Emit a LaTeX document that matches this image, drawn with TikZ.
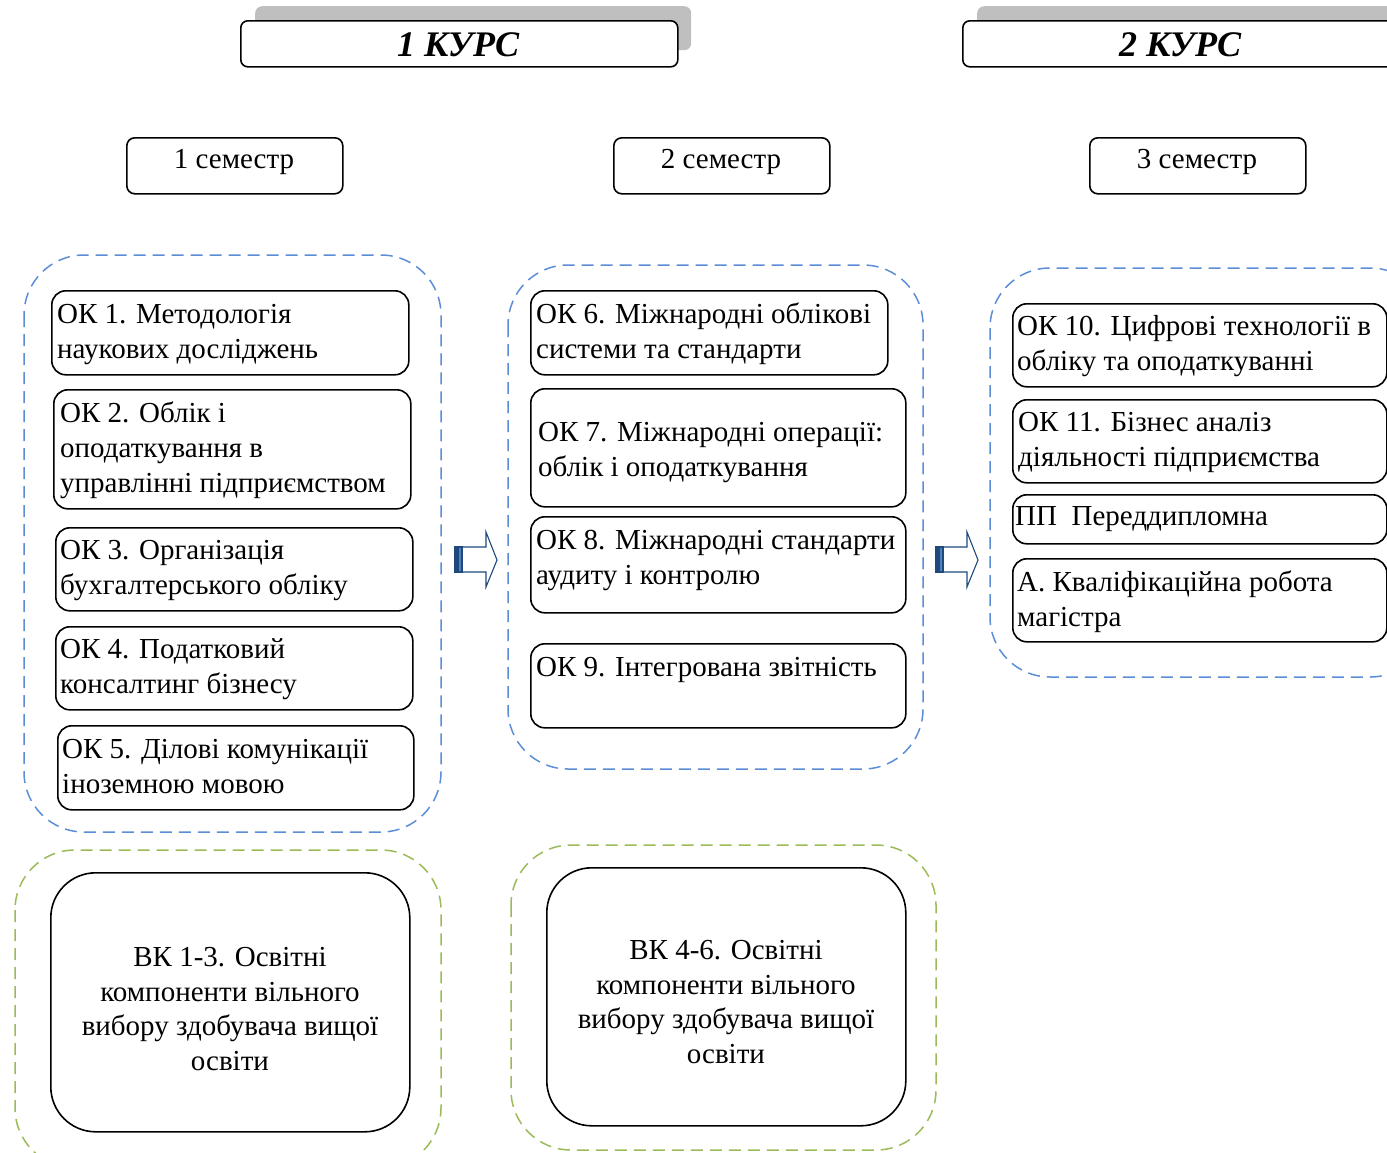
\documentclass[tikz,border=0pt]{standalone}
\usepackage{fontspec}
\setmainfont{Liberation Serif}
\definecolor{grpblue}{RGB}{91,142,214}
\definecolor{grpgreen}{RGB}{155,187,89}
\definecolor{arrblue}{RGB}{31,73,125}
\definecolor{arrmid}{RGB}{79,129,189}
\definecolor{shadowgray}{RGB}{191,191,191}
\newcommand\myblockarrow[2]{%
  \begin{scope}[xshift=#1pt,yshift=-#2pt]
    \fill[arrblue] (0,15) rectangle (4,40);
    \fill[arrmid] (4,15) rectangle (7,40);
    \draw[arrblue, line width=1.1pt, line join=miter] (7,15) -- (31,15) -- (31,0) -- (42,28) -- (31,55) -- (31,40) -- (7,40);
    \draw[arrblue, line width=1.1pt] (0,15) rectangle (7,40);
  \end{scope}}
\begin{document}
\begin{tikzpicture}[x=1pt,y=-1pt,
  okbox/.style={draw=black, line width=1.6pt, rounded corners=14pt, fill=white, anchor=north west, inner sep=0pt},
  bigbox/.style={draw=black, line width=1.6pt, rounded corners=45pt, fill=white, anchor=north west, inner sep=0pt},
  hdrbox/.style={draw=black, line width=1.6pt, rounded corners=7pt, fill=white, anchor=north west, inner sep=0pt},
  shadowbox/.style={fill=shadowgray, rounded corners=7pt, anchor=north west, inner sep=0pt},
  txt/.style={font=\fontsize{29}{35}\selectfont, align=left, anchor=base west, inner sep=0pt},
  ctxt/.style={font=\fontsize{29}{34.5}\selectfont, align=center, anchor=base, inner sep=0pt},
  hdrtxt/.style={font=\fontsize{36}{40}\selectfont\bfseries\itshape, anchor=base, inner sep=0pt},
  bluegrp/.style={draw=grpblue, dash pattern=on 12pt off 7pt, line width=1.5pt, rounded corners=60pt},
  greengrp/.style={draw=grpgreen, dash pattern=on 12pt off 7pt, line width=1.5pt, rounded corners=60pt}
]
\useasboundingbox (0,0) rectangle (1387,1152);
\clip (0,0) rectangle (1387,1152);

% headers
\node[shadowbox, minimum width=436pt, minimum height=44pt] (sh1) at (255,6) {};
\node[hdrbox, minimum width=437pt, minimum height=46pt] (h1) at (240,20) {};
\node[hdrtxt] (h1t) at (458,56) {1 КУРС};
\node[shadowbox, minimum width=450pt, minimum height=44pt] (sh2) at (977,6) {};
\node[hdrbox, minimum width=450pt, minimum height=46pt] (h2) at (962,20) {};
\node[hdrtxt] (h2t) at (1180,56) {2 КУРС};

% semesters
\node[okbox, rounded corners=8pt, minimum width=216pt, minimum height=56pt] (s1) at (126,137) {};
\node[ctxt] (s1t) at (234,168) {1 семестр};
\node[okbox, rounded corners=8pt, minimum width=216pt, minimum height=56pt] (s2) at (613,137) {};
\node[ctxt] (s2t) at (721,168) {2 семестр};
\node[okbox, rounded corners=8pt, minimum width=216pt, minimum height=56pt] (s3) at (1089,137) {};
\node[ctxt] (s3t) at (1197,168) {3 семестр};

% group containers
\draw[bluegrp] (24,255) rectangle (441,832);
\draw[bluegrp] (508,265) rectangle (923,769);
\draw[bluegrp] (990,268) rectangle (1430,677);
\draw[greengrp] (15,850) rectangle (441,1168);
\draw[greengrp] (511,845) rectangle (936,1150);

% semester 1
\node[okbox, minimum width=357pt, minimum height=84pt] (ok1) at (51,290) {};
\node[txt] (ok1t) at (57,358) {ОК 1. Методологія\\наукових досліджень};
\node[okbox, minimum width=357pt, minimum height=119pt] (ok2) at (53,389) {};
\node[txt] (ok2t) at (60,492) {ОК 2. Облік і\\оподаткування в\\управлінні підприємством};
\node[okbox, minimum width=357pt, minimum height=83pt] (ok3) at (55,527) {};
\node[txt] (ok3t) at (60,594) {ОК 3. Організація\\бухгалтерського обліку};
\node[okbox, minimum width=357pt, minimum height=83pt] (ok4) at (55,626) {};
\node[txt] (ok4t) at (60,693) {ОК 4. Податковий\\консалтинг бізнесу};
\node[okbox, minimum width=356pt, minimum height=84pt] (ok5) at (57,725) {};
\node[txt] (ok5t) at (62,793) {ОК 5. Ділові комунікації\\іноземною мовою};

% semester 2
\node[okbox, minimum width=357pt, minimum height=84pt] (ok6) at (530,290) {};
\node[txt] (ok6t) at (536,358) {ОК 6. Міжнародні облікові\\системи та стандарти};
\node[okbox, minimum width=375pt, minimum height=118pt] (ok7) at (530,388) {};
\node[txt] (ok7t) at (538,476) {ОК 7. Міжнародні операції:\\облік і оподаткування};
\node[okbox, minimum width=375pt, minimum height=96pt] (ok8) at (530,516) {};
\node[txt] (ok8t) at (536,584) {ОК 8. Міжнародні стандарти\\аудиту і контролю};
\node[okbox, minimum width=375pt, minimum height=84pt] (ok9) at (530,643) {};
\node[txt] (ok9t) at (536,676) {ОК 9. Інтегрована звітність};

% semester 3
\node[okbox, minimum width=374pt, minimum height=83pt] (ok10) at (1012,303) {};
\node[txt] (ok10t) at (1017,370) {ОК 10. Цифрові технології в\\обліку та оподаткуванні};
\node[okbox, minimum width=374pt, minimum height=83pt] (ok11) at (1012,399) {};
\node[txt] (ok11t) at (1018,466) {ОК 11. Бізнес аналіз\\діяльності підприємства};
\node[okbox, minimum width=374pt, minimum height=49pt] (pp) at (1012,494) {};
\node[txt] (ppt) at (1015,525) {ПП\ \ Переддипломна};
\node[okbox, minimum width=374pt, minimum height=83pt] (aq) at (1012,558) {};
\node[txt] (aqt) at (1017,626) {А. Кваліфікаційна робота\\магістра};

% elective
\node[bigbox, minimum width=359pt, minimum height=259pt] (vk1) at (50,872) {};
\node[ctxt] (vk1t) at (230,1070) {ВК 1-3. Освітні\\компоненти вільного\\вибору здобувача вищої\\освіти};
\node[bigbox, minimum width=359pt, minimum height=258pt] (vk2) at (546,867) {};
\node[ctxt] (vk2t) at (726,1063) {ВК 4-6. Освітні\\компоненти вільного\\вибору здобувача вищої\\освіти};

% arrows
\myblockarrow{455}{532}
\myblockarrow{936}{532}
\end{tikzpicture}
\end{document}
